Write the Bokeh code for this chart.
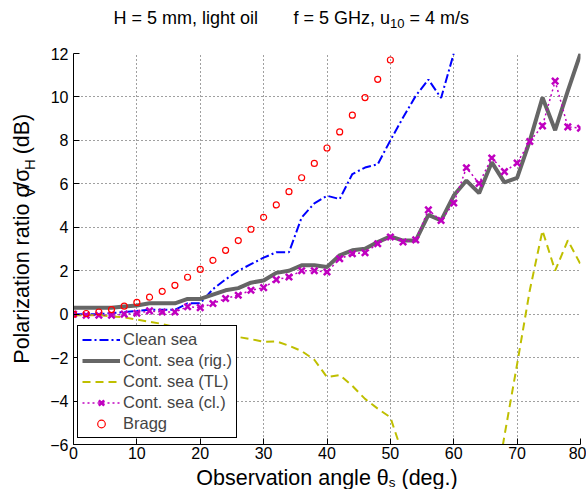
import math
from bokeh.plotting import figure
from bokeh.layouts import column, row
from bokeh.models import Range1d, FixedTicker, Label, Legend, LegendItem
from bokeh.embed import file_html
from bokeh.resources import INLINE

nan = float("nan")

# ---------------- data ----------------
angle_all = list(range(0, 81, 2))
angle_bragg = list(range(0, 51, 2))
angle_clean = list(range(0, 61, 2))

clean_sea = [0.0, 0.0, 0.0, 0.05, 0.1, 0.15, 0.2, 0.2, 0.2, 0.5, 0.5, 1.15, 1.6, 2.0, 2.3,
             2.6, 2.85, 2.85, 4.45, 5.1, 5.45, 5.3, 6.45, 6.75, 6.9, 8.0, 9.05, 10.05, 10.8,
             9.95, 12.0]
cont_rig = [0.3, 0.3, 0.3, 0.3, 0.35, 0.4, 0.5, 0.5, 0.5, 0.7, 0.7, 0.9, 1.1, 1.2, 1.45,
            1.55, 1.9, 2.0, 2.25, 2.25, 2.17, 2.71, 2.94, 3.01, 3.32, 3.58, 3.39, 3.39, 4.57,
            4.31, 5.46, 6.15, 5.57, 6.99, 6.07, 6.27, 7.98, 9.97, 8.47, 10.28, 12.0]
cont_tl = [-0.05, -0.05, -0.05, -0.1, -0.15, -0.25, -0.35, -0.45, -0.6, -0.75, -0.85, -0.92,
           -1.0, -1.05, -1.15, -1.27, -1.25, -1.45, -1.7, -2.1, -2.9, -2.8, -3.3, -3.9, -4.35,
           -4.75, -6.5, nan, nan, nan, nan, nan, nan, -9.0, -5.6, -2.3, 1.1, 3.85, 2.0, 3.4, 2.3]
cont_cl = [0.0, -0.05, -0.05, -0.05, 0.0, 0.04, 0.15, 0.1, 0.1, 0.34, 0.3, 0.49, 0.72, 0.87,
           1.1, 1.22, 1.59, 1.71, 2.0, 2.0, 1.94, 2.55, 2.78, 2.83, 3.24, 3.55, 3.32, 3.42,
           4.80, 4.31, 5.12, 6.74, 6.02, 7.19, 6.56, 6.96, 7.95, 8.67, 10.73, 8.62, 8.56]
bragg = [0.0, 0.03, 0.1, 0.21, 0.37, 0.54, 0.78, 1.05, 1.33, 1.70, 2.06, 2.48, 2.94, 3.39,
         3.91, 4.46, 5.03, 5.64, 6.28, 6.94, 7.65, 8.39, 9.16, 9.97, 10.81, 11.70]

x_ticks = [0, 10, 20, 30, 40, 50, 60, 70, 80]
y_ticks = [-6, -4, -2, 0, 2, 4, 6, 8, 10, 12]
y_tick_labels = ["\u22126", "\u22124", "\u22122", "0", "2", "4", "6", "8", "10", "12"]

legend_labels = ["Clean sea", "Cont. sea (rig.)", "Cont. sea (TL)", "Cont. sea (cl.)", "Bragg"]

# ---------------- geometry (page pixels) ----------------
W, H = 586, 489
TOP_H = 43          # title strip
YL_W = 40           # y-label strip
XL_H = 25           # x-label strip
MAIN_W = W - YL_W
MAIN_H = H - TOP_H - XL_H
FRAME_TOP, FRAME_BOTTOM = 53, 444
FONT = "Liberation Sans"
MID = 0.33          # em fraction between baseline and text middle

# ---------------- main figure ----------------
p = figure(width=MAIN_W, height=MAIN_H, output_backend="svg", toolbar_location=None,
           title=None, x_range=Range1d(0, 80), y_range=Range1d(-6, 12),
           min_border_left=73 - YL_W, min_border_right=6,
           min_border_top=FRAME_TOP - TOP_H,
           min_border_bottom=TOP_H + MAIN_H - FRAME_BOTTOM)
p.outline_line_color = None

for ax, ticks in ((p.xaxis[0], x_ticks), (p.yaxis[0], y_ticks)):
    ax.ticker = FixedTicker(ticks=ticks)
    ax.axis_line_color = "black"
    ax.axis_line_width = 1
    ax.major_tick_line_color = "black"
    ax.major_tick_in = 6
    ax.major_tick_out = 0
    ax.minor_tick_line_color = None
    ax.major_label_text_font = FONT
    ax.major_label_text_font_size = "16px"
    ax.major_label_text_color = "black"
p.xaxis[0].major_label_standoff = 2
p.yaxis[0].major_label_standoff = 5
p.yaxis[0].major_label_overrides = {t: s for t, s in zip(y_ticks, y_tick_labels)}

for g, ticks in ((p.xgrid[0], x_ticks), (p.ygrid[0], y_ticks)):
    g.ticker = FixedTicker(ticks=ticks)
    g.grid_line_color = "black"
    g.grid_line_alpha = 0.75
    g.grid_line_dash = "1 3"
    g.grid_line_width = 1

r_clean = p.line(angle_clean, clean_sea, line_color="#0000FF", line_width=2,
                 line_dash="9 3 2 3")
r_rig = p.line(angle_all, cont_rig, line_color="#666666", line_width=4)
r_tl = p.line(angle_all, cont_tl, line_color="#BFBF00", line_width=2, line_dash="8 5")
r_cl_line = p.line(angle_all, cont_cl, line_color="#C000C0", line_width=1.5, line_dash="2 3")
r_cl_mark = p.scatter(angle_all, cont_cl, marker="x", size=9, line_color="#C000C0",
                      line_width=2.5)
r_bragg = p.scatter(angle_bragg, bragg, marker="circle", size=6, fill_color=None,
                    line_color="#FF0000", line_width=1.2)

legend = Legend(items=[
    LegendItem(label=legend_labels[0], renderers=[r_clean]),
    LegendItem(label=legend_labels[1], renderers=[r_rig]),
    LegendItem(label=legend_labels[2], renderers=[r_tl]),
    LegendItem(label=legend_labels[3], renderers=[r_cl_line, r_cl_mark]),
    LegendItem(label=legend_labels[4], renderers=[r_bragg]),
], location=(4, 6), margin=0, padding=4, spacing=2, label_height=19, glyph_height=19,
    glyph_width=38, label_standoff=3, label_text_font=FONT, label_text_font_size="16.5px",
    border_line_color="black", border_line_width=1, border_line_alpha=1,
    background_fill_color="white", background_fill_alpha=1)
p.add_layout(legend, "center")

# ---------------- text strips (title and axis labels with subscripts) ----------------
AW = {" ": 278, "(": 333, ")": 333, ",": 278, ".": 278, "/": 278, "=": 584,
      "0": 556, "1": 556, "4": 556, "5": 556, "A": 667, "B": 667, "C": 722, "D": 722,
      "G": 778, "H": 722, "O": 778, "P": 667, "V": 667, "a": 556, "b": 556, "c": 500,
      "d": 556, "e": 556, "f": 278, "g": 556, "h": 556, "i": 222, "l": 222, "m": 833,
      "n": 556, "o": 556, "r": 333, "s": 500, "t": 278, "u": 556, "v": 500, "z": 500,
      "\u03c3": 617, "\u03b8": 556}


def tw(s, size):
    return sum(AW.get(c, 556) for c in s) * size / 1000.0


def text_fig(w, h):
    f = figure(width=w, height=h, output_backend="svg", toolbar_location=None, title=None,
               x_range=Range1d(0, w), y_range=Range1d(0, h), min_border=0,
               x_axis_location=None, y_axis_location=None)
    f.xgrid.visible = False
    f.ygrid.visible = False
    f.outline_line_color = None
    return f


def add_text(f, x, y, s, size, angle=0.0):
    f.add_layout(Label(x=x, y=y, text=s, text_font=FONT, text_font_size=f"{size}px",
                       text_color="black", text_align="left",
                       text_baseline="middle", angle=angle))


def run_h(f, pieces, start_x, base_y):
    # base_y: baseline height (y up) inside the strip
    cx = start_x
    for s, size, shift in pieces:
        lead = len(s) - len(s.lstrip(" "))
        cx += tw(" " * lead, size)
        add_text(f, cx, base_y - shift + MID * size, s.lstrip(" "), size)
        cx += tw(s.lstrip(" "), size)


def run_v(f, pieces, base_x, center_y):
    # base_x: baseline position of the rotated text (glyphs extend to the left)
    total = sum(tw(s, size) for s, size, _ in pieces)
    cy = center_y - total / 2
    for s, size, shift in pieces:
        lead = len(s) - len(s.lstrip(" "))
        cy += tw(" " * lead, size)
        add_text(f, base_x + shift - MID * size, cy, s.lstrip(" "), size, angle=math.pi / 2)
        cy += tw(s.lstrip(" "), size)


# title strip (page y 0..TOP_H)
f_title = text_fig(W, TOP_H)
run_h(f_title, [("H = 5 mm, light oil", 18, 0)], 113, TOP_H - 23)
run_h(f_title, [("f = 5 GHz, u", 18, 0), ("10", 13, 4), (" = 4 m/s", 18, 0)], 293, TOP_H - 23)

# y-label strip (page y TOP_H..TOP_H+MAIN_H)
f_ylab = text_fig(YL_W, MAIN_H)
yl = [("Polarization ratio \u03c3", 21.5, 0), ("V", 15, 5), ("/\u03c3", 21.5, 0),
      ("H", 15, 5), (" (dB)", 21.5, 0)]
run_v(f_ylab, yl, 29, MAIN_H - (244 - TOP_H))

# x-label strip (page y TOP_H+MAIN_H..H)
f_xlab = text_fig(W, XL_H)
xl = [("Observation angle \u03b8", 21.5, 0), ("s", 13.5, 1.8), (" (deg.)", 21.5, 0)]
xl_total = sum(tw(s, z) for s, z, _ in xl)
run_h(f_xlab, xl, (73 + 580) / 2 - xl_total / 2, H - 484.3)

layout = column(f_title, row(f_ylab, p, spacing=0), f_xlab, spacing=0)

open("out.html", "w").write(file_html(layout, INLINE))
